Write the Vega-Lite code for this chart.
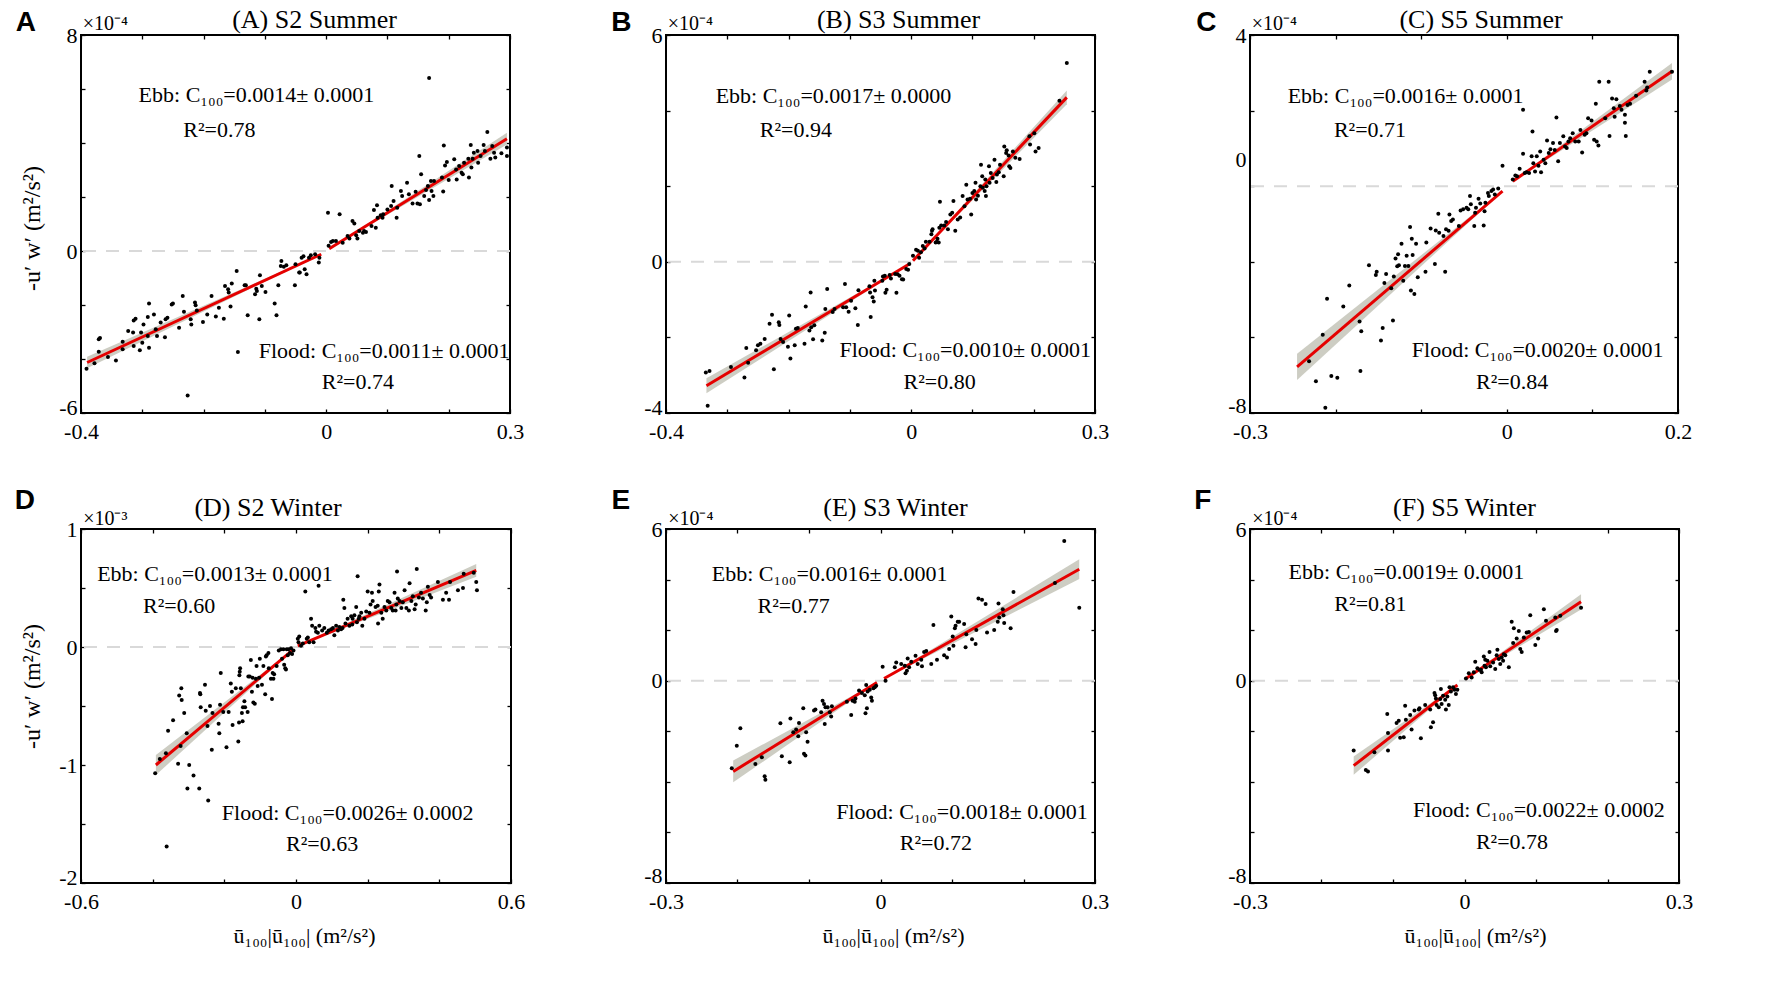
{
  "$schema": "https://vega.github.io/schema/vega-lite/v6.json",
  "description": "Quadratic drag law fits of Reynolds stress against near-bed velocity, six station/season panels",
  "background": "white",
  "padding": {"left": 13, "top": 5, "right": 10, "bottom": 10},
  "columns": 3,
  "spacing": {"row": 116, "column": 155},
  "bounds": "flush",
  "datasets": {
    "pts": [
      {"p":"A","x":-0.391,"y":-4.36},{"p":"A","x":-0.378,"y":-4.16},{"p":"A","x":-0.371,"y":-3.27},{"p":"A","x":-0.369,"y":-3.22},{"p":"A","x":-0.371,"y":-3.73},{"p":"A","x":-0.356,"y":-3.93},{"p":"A","x":-0.343,"y":-4.06},{"p":"A","x":-0.332,"y":-3.36},{"p":"A","x":-0.332,"y":-3.64},{"p":"A","x":-0.323,"y":-2.96},{"p":"A","x":-0.315,"y":-3.02},{"p":"A","x":-0.314,"y":-2.57},{"p":"A","x":-0.314,"y":-3.52},{"p":"A","x":-0.311,"y":-2.51},{"p":"A","x":-0.304,"y":-3.68},{"p":"A","x":-0.302,"y":-3.02},{"p":"A","x":-0.3,"y":-3.4},{"p":"A","x":-0.298,"y":-2.72},{"p":"A","x":-0.291,"y":-2.44},{"p":"A","x":-0.289,"y":-1.94},{"p":"A","x":-0.289,"y":-3.58},{"p":"A","x":-0.291,"y":-3.15},{"p":"A","x":-0.281,"y":-2.35},{"p":"A","x":-0.278,"y":-2.9},{"p":"A","x":-0.276,"y":-3.15},{"p":"A","x":-0.27,"y":-2.65},{"p":"A","x":-0.263,"y":-3.19},{"p":"A","x":-0.262,"y":-2.53},{"p":"A","x":-0.259,"y":-2.47},{"p":"A","x":-0.252,"y":-1.98},{"p":"A","x":-0.25,"y":-1.94},{"p":"A","x":-0.24,"y":-2.84},{"p":"A","x":-0.234,"y":-1.67},{"p":"A","x":-0.232,"y":-2.25},{"p":"A","x":-0.221,"y":-2.53},{"p":"A","x":-0.22,"y":-2.72},{"p":"A","x":-0.214,"y":-1.91},{"p":"A","x":-0.213,"y":-2.01},{"p":"A","x":-0.211,"y":-2.2},{"p":"A","x":-0.201,"y":-2.63},{"p":"A","x":-0.194,"y":-2.35},{"p":"A","x":-0.187,"y":-1.67},{"p":"A","x":-0.18,"y":-2.43},{"p":"A","x":-0.175,"y":-2.1},{"p":"A","x":-0.167,"y":-2.51},{"p":"A","x":-0.165,"y":-1.3},{"p":"A","x":-0.16,"y":-1.42},{"p":"A","x":-0.159,"y":-1.54},{"p":"A","x":-0.156,"y":-2.06},{"p":"A","x":-0.154,"y":-1.2},{"p":"A","x":-0.146,"y":-0.74},{"p":"A","x":-0.144,"y":-3.74},{"p":"A","x":-0.133,"y":-1.27},{"p":"A","x":-0.131,"y":-1.27},{"p":"A","x":-0.128,"y":-2.38},{"p":"A","x":-0.116,"y":-1.6},{"p":"A","x":-0.114,"y":-1.4},{"p":"A","x":-0.113,"y":-1.48},{"p":"A","x":-0.109,"y":-2.53},{"p":"A","x":-0.108,"y":-0.9},{"p":"A","x":-0.105,"y":-1.3},{"p":"A","x":-0.099,"y":-1.52},{"p":"A","x":-0.084,"y":-1.94},{"p":"A","x":-0.081,"y":-2.38},{"p":"A","x":-0.078,"y":-1.27},{"p":"A","x":-0.073,"y":-0.37},{"p":"A","x":-0.074,"y":-0.56},{"p":"A","x":-0.069,"y":-0.58},{"p":"A","x":-0.065,"y":-0.53},{"p":"A","x":-0.051,"y":-1.27},{"p":"A","x":-0.05,"y":-0.49},{"p":"A","x":-0.044,"y":-0.8},{"p":"A","x":-0.043,"y":-0.8},{"p":"A","x":-0.04,"y":-0.25},{"p":"A","x":-0.037,"y":-0.19},{"p":"A","x":-0.035,"y":-0.68},{"p":"A","x":-0.032,"y":-0.86},{"p":"A","x":-0.028,"y":-0.25},{"p":"A","x":-0.025,"y":-0.16},{"p":"A","x":-0.018,"y":-0.12},{"p":"A","x":-0.012,"y":-0.43},{"p":"A","x":-0.011,"y":-0.25},{"p":"A","x":-0.226,"y":-5.35},
      {"p":"A","x":0.003,"y":1.42},{"p":"A","x":0.004,"y":0.19},{"p":"A","x":0.008,"y":0.33},{"p":"A","x":0.011,"y":0.37},{"p":"A","x":0.016,"y":0.37},{"p":"A","x":0.022,"y":1.36},{"p":"A","x":0.027,"y":0.31},{"p":"A","x":0.035,"y":0.56},{"p":"A","x":0.038,"y":0.46},{"p":"A","x":0.043,"y":1.11},{"p":"A","x":0.046,"y":1.02},{"p":"A","x":0.049,"y":0.58},{"p":"A","x":0.051,"y":0.46},{"p":"A","x":0.054,"y":0.74},{"p":"A","x":0.06,"y":0.68},{"p":"A","x":0.062,"y":0.74},{"p":"A","x":0.065,"y":0.7},{"p":"A","x":0.074,"y":0.93},{"p":"A","x":0.078,"y":1.52},{"p":"A","x":0.081,"y":0.86},{"p":"A","x":0.083,"y":1.69},{"p":"A","x":0.084,"y":1.23},{"p":"A","x":0.089,"y":1.32},{"p":"A","x":0.092,"y":1.23},{"p":"A","x":0.093,"y":1.36},{"p":"A","x":0.1,"y":1.54},{"p":"A","x":0.106,"y":1.67},{"p":"A","x":0.107,"y":2.41},{"p":"A","x":0.11,"y":1.85},{"p":"A","x":0.115,"y":1.23},{"p":"A","x":0.116,"y":1.6},{"p":"A","x":0.122,"y":2.22},{"p":"A","x":0.124,"y":2.04},{"p":"A","x":0.132,"y":2.53},{"p":"A","x":0.135,"y":2.1},{"p":"A","x":0.141,"y":1.76},{"p":"A","x":0.146,"y":2.19},{"p":"A","x":0.149,"y":1.76},{"p":"A","x":0.152,"y":3.52},{"p":"A","x":0.153,"y":1.73},{"p":"A","x":0.155,"y":2.84},{"p":"A","x":0.16,"y":2.04},{"p":"A","x":0.163,"y":2.26},{"p":"A","x":0.166,"y":2.41},{"p":"A","x":0.168,"y":1.89},{"p":"A","x":0.171,"y":2.59},{"p":"A","x":0.172,"y":2.22},{"p":"A","x":0.175,"y":2.04},{"p":"A","x":0.176,"y":2.59},{"p":"A","x":0.168,"y":6.41},{"p":"A","x":0.189,"y":2.72},{"p":"A","x":0.191,"y":2.2},{"p":"A","x":0.192,"y":3.91},{"p":"A","x":0.194,"y":3.17},{"p":"A","x":0.197,"y":3.3},{"p":"A","x":0.2,"y":2.63},{"p":"A","x":0.209,"y":3.4},{"p":"A","x":0.212,"y":3.02},{"p":"A","x":0.213,"y":2.65},{"p":"A","x":0.217,"y":3.15},{"p":"A","x":0.221,"y":2.9},{"p":"A","x":0.223,"y":2.84},{"p":"A","x":0.225,"y":3.27},{"p":"A","x":0.232,"y":3.42},{"p":"A","x":0.233,"y":2.72},{"p":"A","x":0.236,"y":3.93},{"p":"A","x":0.237,"y":3.09},{"p":"A","x":0.239,"y":3.42},{"p":"A","x":0.241,"y":3.64},{"p":"A","x":0.247,"y":3.7},{"p":"A","x":0.248,"y":3.27},{"p":"A","x":0.252,"y":3.52},{"p":"A","x":0.257,"y":3.93},{"p":"A","x":0.259,"y":3.7},{"p":"A","x":0.263,"y":4.41},{"p":"A","x":0.268,"y":3.42},{"p":"A","x":0.271,"y":3.89},{"p":"A","x":0.274,"y":3.64},{"p":"A","x":0.276,"y":3.46},{"p":"A","x":0.286,"y":3.62},{"p":"A","x":0.295,"y":3.83},{"p":"A","x":0.295,"y":3.52},
      {"p":"B","x":-0.335,"y":-2.93},{"p":"B","x":-0.329,"y":-2.89},{"p":"B","x":-0.332,"y":-3.81},{"p":"B","x":-0.294,"y":-2.78},{"p":"B","x":-0.272,"y":-3.06},{"p":"B","x":-0.269,"y":-2.28},{"p":"B","x":-0.266,"y":-2.67},{"p":"B","x":-0.253,"y":-2.34},{"p":"B","x":-0.25,"y":-2.21},{"p":"B","x":-0.246,"y":-2.17},{"p":"B","x":-0.239,"y":-2.04},{"p":"B","x":-0.231,"y":-1.64},{"p":"B","x":-0.227,"y":-1.4},{"p":"B","x":-0.224,"y":-2.84},{"p":"B","x":-0.216,"y":-1.6},{"p":"B","x":-0.215,"y":-1.67},{"p":"B","x":-0.213,"y":-2.04},{"p":"B","x":-0.209,"y":-2.12},{"p":"B","x":-0.201,"y":-2.25},{"p":"B","x":-0.199,"y":-1.42},{"p":"B","x":-0.197,"y":-2.56},{"p":"B","x":-0.19,"y":-2.21},{"p":"B","x":-0.188,"y":-1.77},{"p":"B","x":-0.185,"y":-1.75},{"p":"B","x":-0.174,"y":-2.17},{"p":"B","x":-0.172,"y":-1.18},{"p":"B","x":-0.166,"y":-1.82},{"p":"B","x":-0.164,"y":-0.81},{"p":"B","x":-0.163,"y":-1.73},{"p":"B","x":-0.16,"y":-2.05},{"p":"B","x":-0.158,"y":-1.68},{"p":"B","x":-0.145,"y":-2.08},{"p":"B","x":-0.141,"y":-1.88},{"p":"B","x":-0.14,"y":-1.25},{"p":"B","x":-0.137,"y":-0.72},{"p":"B","x":-0.128,"y":-1.33},{"p":"B","x":-0.125,"y":-1.25},{"p":"B","x":-0.111,"y":-1.2},{"p":"B","x":-0.108,"y":-0.59},{"p":"B","x":-0.106,"y":-1.2},{"p":"B","x":-0.102,"y":-1.32},{"p":"B","x":-0.098,"y":-1.03},{"p":"B","x":-0.091,"y":-1.23},{"p":"B","x":-0.087,"y":-1.67},{"p":"B","x":-0.086,"y":-0.75},{"p":"B","x":-0.068,"y":-0.65},{"p":"B","x":-0.067,"y":-0.81},{"p":"B","x":-0.066,"y":-1.46},{"p":"B","x":-0.063,"y":-0.94},{"p":"B","x":-0.061,"y":-1.05},{"p":"B","x":-0.06,"y":-0.5},{"p":"B","x":-0.059,"y":-0.76},{"p":"B","x":-0.047,"y":-0.5},{"p":"B","x":-0.046,"y":-0.39},{"p":"B","x":-0.043,"y":-0.37},{"p":"B","x":-0.042,"y":-0.82},{"p":"B","x":-0.04,"y":-0.74},{"p":"B","x":-0.035,"y":-0.35},{"p":"B","x":-0.033,"y":-0.44},{"p":"B","x":-0.026,"y":-0.32},{"p":"B","x":-0.024,"y":-0.82},{"p":"B","x":-0.022,"y":-0.33},{"p":"B","x":-0.019,"y":-0.37},{"p":"B","x":-0.015,"y":-0.46},{"p":"B","x":-0.013,"y":-0.47},{"p":"B","x":-0.008,"y":-0.19},{"p":"B","x":-0.005,"y":-0.21},{"p":"B","x":-0.003,"y":-0.06},
      {"p":"B","x":0.003,"y":0.16},{"p":"B","x":0.008,"y":0.32},{"p":"B","x":0.011,"y":0.29},{"p":"B","x":0.013,"y":0.11},{"p":"B","x":0.016,"y":0.25},{"p":"B","x":0.019,"y":0.42},{"p":"B","x":0.022,"y":0.35},{"p":"B","x":0.024,"y":0.53},{"p":"B","x":0.03,"y":0.53},{"p":"B","x":0.033,"y":0.73},{"p":"B","x":0.034,"y":0.82},{"p":"B","x":0.035,"y":0.86},{"p":"B","x":0.04,"y":0.51},{"p":"B","x":0.042,"y":0.53},{"p":"B","x":0.043,"y":0.61},{"p":"B","x":0.045,"y":0.51},{"p":"B","x":0.046,"y":0.9},{"p":"B","x":0.047,"y":1.59},{"p":"B","x":0.049,"y":0.96},{"p":"B","x":0.054,"y":0.96},{"p":"B","x":0.057,"y":1.05},{"p":"B","x":0.06,"y":0.86},{"p":"B","x":0.064,"y":1.25},{"p":"B","x":0.067,"y":1.3},{"p":"B","x":0.069,"y":1.61},{"p":"B","x":0.072,"y":0.82},{"p":"B","x":0.076,"y":1.12},{"p":"B","x":0.08,"y":1.17},{"p":"B","x":0.084,"y":1.74},{"p":"B","x":0.087,"y":1.47},{"p":"B","x":0.09,"y":2.04},{"p":"B","x":0.092,"y":1.65},{"p":"B","x":0.096,"y":1.67},{"p":"B","x":0.098,"y":1.25},{"p":"B","x":0.1,"y":1.82},{"p":"B","x":0.103,"y":1.87},{"p":"B","x":0.105,"y":2.09},{"p":"B","x":0.106,"y":1.65},{"p":"B","x":0.109,"y":1.75},{"p":"B","x":0.113,"y":2.0},{"p":"B","x":0.114,"y":2.57},{"p":"B","x":0.116,"y":2.26},{"p":"B","x":0.117,"y":1.96},{"p":"B","x":0.12,"y":1.87},{"p":"B","x":0.121,"y":2.18},{"p":"B","x":0.122,"y":1.74},{"p":"B","x":0.123,"y":2.0},{"p":"B","x":0.127,"y":2.53},{"p":"B","x":0.128,"y":2.09},{"p":"B","x":0.13,"y":2.35},{"p":"B","x":0.133,"y":2.22},{"p":"B","x":0.136,"y":2.7},{"p":"B","x":0.139,"y":2.11},{"p":"B","x":0.14,"y":2.31},{"p":"B","x":0.143,"y":2.37},{"p":"B","x":0.145,"y":2.57},{"p":"B","x":0.151,"y":2.26},{"p":"B","x":0.152,"y":3.05},{"p":"B","x":0.155,"y":2.88},{"p":"B","x":0.156,"y":2.95},{"p":"B","x":0.159,"y":2.81},{"p":"B","x":0.16,"y":2.53},{"p":"B","x":0.162,"y":2.48},{"p":"B","x":0.166,"y":2.92},{"p":"B","x":0.17,"y":2.75},{"p":"B","x":0.177,"y":2.72},{"p":"B","x":0.193,"y":3.32},{"p":"B","x":0.194,"y":3.1},{"p":"B","x":0.201,"y":3.4},{"p":"B","x":0.203,"y":2.92},{"p":"B","x":0.208,"y":3.01},{"p":"B","x":0.242,"y":4.26},{"p":"B","x":0.254,"y":5.26},
      {"p":"C","x":-0.231,"y":-4.63},{"p":"C","x":-0.223,"y":-5.16},{"p":"C","x":-0.215,"y":-3.93},{"p":"C","x":-0.212,"y":-5.86},{"p":"C","x":-0.21,"y":-2.98},{"p":"C","x":-0.205,"y":-5.02},{"p":"C","x":-0.198,"y":-5.07},{"p":"C","x":-0.191,"y":-3.18},{"p":"C","x":-0.184,"y":-2.63},{"p":"C","x":-0.172,"y":-3.58},{"p":"C","x":-0.17,"y":-3.84},{"p":"C","x":-0.171,"y":-4.89},{"p":"C","x":-0.161,"y":-2.09},{"p":"C","x":-0.153,"y":-2.35},{"p":"C","x":-0.152,"y":-2.26},{"p":"C","x":-0.147,"y":-4.08},{"p":"C","x":-0.145,"y":-3.75},{"p":"C","x":-0.143,"y":-2.56},{"p":"C","x":-0.141,"y":-2.32},{"p":"C","x":-0.135,"y":-2.7},{"p":"C","x":-0.133,"y":-3.55},{"p":"C","x":-0.132,"y":-2.39},{"p":"C","x":-0.13,"y":-1.91},{"p":"C","x":-0.128,"y":-2.12},{"p":"C","x":-0.127,"y":-1.8},{"p":"C","x":-0.126,"y":-2.09},{"p":"C","x":-0.123,"y":-1.52},{"p":"C","x":-0.121,"y":-2.5},{"p":"C","x":-0.119,"y":-2.11},{"p":"C","x":-0.117,"y":-1.84},{"p":"C","x":-0.115,"y":-2.11},{"p":"C","x":-0.113,"y":-1.08},{"p":"C","x":-0.112,"y":-2.76},{"p":"C","x":-0.111,"y":-1.39},{"p":"C","x":-0.11,"y":-1.82},{"p":"C","x":-0.108,"y":-2.85},{"p":"C","x":-0.106,"y":-1.52},{"p":"C","x":-0.104,"y":-2.41},{"p":"C","x":-0.095,"y":-2.26},{"p":"C","x":-0.094,"y":-1.49},{"p":"C","x":-0.089,"y":-1.12},{"p":"C","x":-0.084,"y":-2.06},{"p":"C","x":-0.083,"y":-1.17},{"p":"C","x":-0.08,"y":-0.73},{"p":"C","x":-0.079,"y":-1.23},{"p":"C","x":-0.074,"y":-1.32},{"p":"C","x":-0.072,"y":-2.26},{"p":"C","x":-0.071,"y":-1.14},{"p":"C","x":-0.068,"y":-1.18},{"p":"C","x":-0.067,"y":-0.75},{"p":"C","x":-0.065,"y":-0.92},{"p":"C","x":-0.063,"y":-0.88},{"p":"C","x":-0.056,"y":-1.05},{"p":"C","x":-0.054,"y":-0.64},{"p":"C","x":-0.051,"y":-0.61},{"p":"C","x":-0.047,"y":-0.57},{"p":"C","x":-0.045,"y":-0.61},{"p":"C","x":-0.043,"y":-0.26},{"p":"C","x":-0.042,"y":-0.48},{"p":"C","x":-0.038,"y":-1.05},{"p":"C","x":-0.037,"y":-0.7},{"p":"C","x":-0.036,"y":-0.57},{"p":"C","x":-0.033,"y":-0.33},{"p":"C","x":-0.031,"y":-0.46},{"p":"C","x":-0.027,"y":-1.04},{"p":"C","x":-0.026,"y":-0.66},{"p":"C","x":-0.025,"y":-0.44},{"p":"C","x":-0.022,"y":-0.18},{"p":"C","x":-0.021,"y":-0.26},{"p":"C","x":-0.018,"y":-0.13},{"p":"C","x":-0.016,"y":-0.09},{"p":"C","x":-0.014,"y":-0.22},{"p":"C","x":-0.01,"y":-0.06},{"p":"C","x":-0.005,"y":0.54},
      {"p":"C","x":0.007,"y":0.18},{"p":"C","x":0.01,"y":0.28},{"p":"C","x":0.012,"y":0.26},{"p":"C","x":0.015,"y":0.46},{"p":"C","x":0.019,"y":0.86},{"p":"C","x":0.019,"y":2.02},{"p":"C","x":0.021,"y":0.35},{"p":"C","x":0.023,"y":0.37},{"p":"C","x":0.026,"y":0.35},{"p":"C","x":0.029,"y":0.79},{"p":"C","x":0.03,"y":1.45},{"p":"C","x":0.031,"y":0.61},{"p":"C","x":0.033,"y":0.39},{"p":"C","x":0.035,"y":0.79},{"p":"C","x":0.037,"y":0.54},{"p":"C","x":0.039,"y":0.92},{"p":"C","x":0.04,"y":0.37},{"p":"C","x":0.043,"y":0.7},{"p":"C","x":0.045,"y":0.61},{"p":"C","x":0.047,"y":1.21},{"p":"C","x":0.049,"y":0.88},{"p":"C","x":0.051,"y":0.98},{"p":"C","x":0.054,"y":1.14},{"p":"C","x":0.056,"y":0.96},{"p":"C","x":0.058,"y":1.82},{"p":"C","x":0.06,"y":0.66},{"p":"C","x":0.062,"y":1.14},{"p":"C","x":0.066,"y":1.32},{"p":"C","x":0.068,"y":1.05},{"p":"C","x":0.07,"y":1.01},{"p":"C","x":0.072,"y":1.18},{"p":"C","x":0.074,"y":1.27},{"p":"C","x":0.077,"y":1.4},{"p":"C","x":0.08,"y":1.18},{"p":"C","x":0.084,"y":1.18},{"p":"C","x":0.086,"y":1.49},{"p":"C","x":0.088,"y":0.89},{"p":"C","x":0.091,"y":1.36},{"p":"C","x":0.093,"y":1.4},{"p":"C","x":0.095,"y":1.8},{"p":"C","x":0.099,"y":1.74},{"p":"C","x":0.102,"y":1.23},{"p":"C","x":0.104,"y":2.18},{"p":"C","x":0.105,"y":1.18},{"p":"C","x":0.107,"y":1.08},{"p":"C","x":0.108,"y":2.76},{"p":"C","x":0.115,"y":1.8},{"p":"C","x":0.119,"y":2.76},{"p":"C","x":0.12,"y":1.33},{"p":"C","x":0.123,"y":2.32},{"p":"C","x":0.125,"y":2.06},{"p":"C","x":0.126,"y":1.84},{"p":"C","x":0.128,"y":2.3},{"p":"C","x":0.132,"y":2.12},{"p":"C","x":0.134,"y":2.02},{"p":"C","x":0.138,"y":1.89},{"p":"C","x":0.138,"y":1.68},{"p":"C","x":0.139,"y":1.33},{"p":"C","x":0.141,"y":2.15},{"p":"C","x":0.144,"y":2.18},{"p":"C","x":0.151,"y":2.39},{"p":"C","x":0.161,"y":2.76},{"p":"C","x":0.163,"y":2.53},{"p":"C","x":0.164,"y":2.61},{"p":"C","x":0.167,"y":3.03},{"p":"C","x":0.193,"y":3.03},
      {"p":"D","x":-0.393,"y":-1.07},{"p":"D","x":-0.38,"y":-0.95},{"p":"D","x":-0.363,"y":-0.9},{"p":"D","x":-0.361,"y":-1.69},{"p":"D","x":-0.357,"y":-0.71},{"p":"D","x":-0.343,"y":-0.62},{"p":"D","x":-0.329,"y":-0.99},{"p":"D","x":-0.326,"y":-0.41},{"p":"D","x":-0.322,"y":-0.84},{"p":"D","x":-0.32,"y":-0.35},{"p":"D","x":-0.319,"y":-0.45},{"p":"D","x":-0.312,"y":-0.56},{"p":"D","x":-0.305,"y":-0.73},{"p":"D","x":-0.303,"y":-1.2},{"p":"D","x":-0.298,"y":-1.0},{"p":"D","x":-0.286,"y":-1.09},{"p":"D","x":-0.27,"y":-1.2},{"p":"D","x":-0.268,"y":-0.39},{"p":"D","x":-0.267,"y":-0.4},{"p":"D","x":-0.266,"y":-0.51},{"p":"D","x":-0.254,"y":-0.32},{"p":"D","x":-0.252,"y":-0.54},{"p":"D","x":-0.247,"y":-0.67},{"p":"D","x":-0.245,"y":-1.3},{"p":"D","x":-0.24,"y":-0.5},{"p":"D","x":-0.235,"y":-0.87},{"p":"D","x":-0.233,"y":-0.56},{"p":"D","x":-0.216,"y":-0.65},{"p":"D","x":-0.214,"y":-0.73},{"p":"D","x":-0.212,"y":-0.49},{"p":"D","x":-0.21,"y":-0.22},{"p":"D","x":-0.203,"y":-0.55},{"p":"D","x":-0.194,"y":-0.85},{"p":"D","x":-0.188,"y":-0.55},{"p":"D","x":-0.182,"y":-0.31},{"p":"D","x":-0.179,"y":-0.38},{"p":"D","x":-0.177,"y":-0.66},{"p":"D","x":-0.168,"y":-0.35},{"p":"D","x":-0.161,"y":-0.8},{"p":"D","x":-0.158,"y":-0.24},{"p":"D","x":-0.159,"y":-0.64},{"p":"D","x":-0.157,"y":-0.21},{"p":"D","x":-0.156,"y":-0.18},{"p":"D","x":-0.154,"y":-0.35},{"p":"D","x":-0.151,"y":-0.56},{"p":"D","x":-0.149,"y":-0.63},{"p":"D","x":-0.148,"y":-0.51},{"p":"D","x":-0.144,"y":-0.46},{"p":"D","x":-0.142,"y":-0.51},{"p":"D","x":-0.135,"y":-0.55},{"p":"D","x":-0.133,"y":-0.25},{"p":"D","x":-0.129,"y":-0.25},{"p":"D","x":-0.126,"y":-0.11},{"p":"D","x":-0.123,"y":-0.38},{"p":"D","x":-0.121,"y":-0.26},{"p":"D","x":-0.119,"y":-0.47},{"p":"D","x":-0.115,"y":-0.48},{"p":"D","x":-0.112,"y":-0.27},{"p":"D","x":-0.11,"y":-0.16},{"p":"D","x":-0.107,"y":-0.33},{"p":"D","x":-0.103,"y":-0.26},{"p":"D","x":-0.101,"y":-0.1},{"p":"D","x":-0.095,"y":-0.32},{"p":"D","x":-0.091,"y":-0.16},{"p":"D","x":-0.086,"y":-0.4},{"p":"D","x":-0.084,"y":-0.08},{"p":"D","x":-0.082,"y":-0.07},{"p":"D","x":-0.077,"y":-0.05},{"p":"D","x":-0.076,"y":-0.18},{"p":"D","x":-0.07,"y":-0.27},{"p":"D","x":-0.067,"y":-0.44},{"p":"D","x":-0.065,"y":-0.22},{"p":"D","x":-0.063,"y":-0.27},{"p":"D","x":-0.061,"y":-0.23},{"p":"D","x":-0.054,"y":-0.16},{"p":"D","x":-0.048,"y":-0.03},{"p":"D","x":-0.042,"y":-0.02},{"p":"D","x":-0.039,"y":-0.1},{"p":"D","x":-0.035,"y":-0.02},{"p":"D","x":-0.033,"y":-0.15},{"p":"D","x":-0.03,"y":-0.18},{"p":"D","x":-0.028,"y":-0.19},{"p":"D","x":-0.026,"y":-0.02},{"p":"D","x":-0.023,"y":-0.07},{"p":"D","x":-0.021,"y":-0.02},{"p":"D","x":-0.017,"y":-0.05},{"p":"D","x":-0.014,"y":-0.01},{"p":"D","x":-0.011,"y":-0.06},{"p":"D","x":-0.007,"y":-0.03},
      {"p":"D","x":0.005,"y":0.07},{"p":"D","x":0.007,"y":0.04},{"p":"D","x":0.009,"y":0.09},{"p":"D","x":0.014,"y":0.01},{"p":"D","x":0.019,"y":0.03},{"p":"D","x":0.026,"y":0.47},{"p":"D","x":0.03,"y":0.07},{"p":"D","x":0.033,"y":0.08},{"p":"D","x":0.037,"y":0.04},{"p":"D","x":0.042,"y":0.24},{"p":"D","x":0.045,"y":0.18},{"p":"D","x":0.049,"y":0.04},{"p":"D","x":0.054,"y":0.16},{"p":"D","x":0.056,"y":0.13},{"p":"D","x":0.061,"y":0.12},{"p":"D","x":0.063,"y":0.52},{"p":"D","x":0.065,"y":0.18},{"p":"D","x":0.073,"y":0.14},{"p":"D","x":0.079,"y":0.16},{"p":"D","x":0.086,"y":0.12},{"p":"D","x":0.091,"y":0.14},{"p":"D","x":0.098,"y":0.15},{"p":"D","x":0.103,"y":0.16},{"p":"D","x":0.107,"y":0.1},{"p":"D","x":0.112,"y":0.18},{"p":"D","x":0.117,"y":0.14},{"p":"D","x":0.121,"y":0.17},{"p":"D","x":0.126,"y":0.15},{"p":"D","x":0.13,"y":0.16},{"p":"D","x":0.132,"y":0.4},{"p":"D","x":0.135,"y":0.33},{"p":"D","x":0.138,"y":0.2},{"p":"D","x":0.144,"y":0.24},{"p":"D","x":0.149,"y":0.18},{"p":"D","x":0.154,"y":0.26},{"p":"D","x":0.157,"y":0.19},{"p":"D","x":0.158,"y":0.24},{"p":"D","x":0.163,"y":0.27},{"p":"D","x":0.168,"y":0.34},{"p":"D","x":0.17,"y":0.21},{"p":"D","x":0.172,"y":0.6},{"p":"D","x":0.175,"y":0.24},{"p":"D","x":0.177,"y":0.26},{"p":"D","x":0.182,"y":0.29},{"p":"D","x":0.185,"y":0.18},{"p":"D","x":0.191,"y":0.24},{"p":"D","x":0.196,"y":0.3},{"p":"D","x":0.2,"y":0.47},{"p":"D","x":0.205,"y":0.29},{"p":"D","x":0.208,"y":0.36},{"p":"D","x":0.212,"y":0.46},{"p":"D","x":0.214,"y":0.39},{"p":"D","x":0.222,"y":0.34},{"p":"D","x":0.228,"y":0.35},{"p":"D","x":0.231,"y":0.47},{"p":"D","x":0.233,"y":0.53},{"p":"D","x":0.229,"y":0.2},{"p":"D","x":0.238,"y":0.29},{"p":"D","x":0.242,"y":0.24},{"p":"D","x":0.247,"y":0.34},{"p":"D","x":0.252,"y":0.31},{"p":"D","x":0.256,"y":0.39},{"p":"D","x":0.261,"y":0.38},{"p":"D","x":0.266,"y":0.33},{"p":"D","x":0.27,"y":0.31},{"p":"D","x":0.275,"y":0.46},{"p":"D","x":0.278,"y":0.31},{"p":"D","x":0.28,"y":0.36},{"p":"D","x":0.282,"y":0.64},{"p":"D","x":0.284,"y":0.41},{"p":"D","x":0.289,"y":0.39},{"p":"D","x":0.294,"y":0.33},{"p":"D","x":0.298,"y":0.38},{"p":"D","x":0.303,"y":0.48},{"p":"D","x":0.308,"y":0.33},{"p":"D","x":0.315,"y":0.31},{"p":"D","x":0.317,"y":0.54},{"p":"D","x":0.322,"y":0.39},{"p":"D","x":0.326,"y":0.43},{"p":"D","x":0.331,"y":0.32},{"p":"D","x":0.334,"y":0.36},{"p":"D","x":0.337,"y":0.66},{"p":"D","x":0.343,"y":0.42},{"p":"D","x":0.349,"y":0.46},{"p":"D","x":0.354,"y":0.41},{"p":"D","x":0.362,"y":0.31},{"p":"D","x":0.365,"y":0.38},{"p":"D","x":0.368,"y":0.51},{"p":"D","x":0.373,"y":0.44},{"p":"D","x":0.377,"y":0.42},{"p":"D","x":0.396,"y":0.55},{"p":"D","x":0.41,"y":0.4},{"p":"D","x":0.419,"y":0.46},{"p":"D","x":0.427,"y":0.4},{"p":"D","x":0.43,"y":0.55},{"p":"D","x":0.452,"y":0.48},{"p":"D","x":0.466,"y":0.5},{"p":"D","x":0.468,"y":0.62},{"p":"D","x":0.496,"y":0.63},{"p":"D","x":0.503,"y":0.55},{"p":"D","x":0.505,"y":0.48},
      {"p":"E","x":-0.208,"y":-3.46},{"p":"E","x":-0.201,"y":-2.57},{"p":"E","x":-0.196,"y":-1.88},{"p":"E","x":-0.175,"y":-3.29},{"p":"E","x":-0.166,"y":-3.03},{"p":"E","x":-0.162,"y":-3.78},{"p":"E","x":-0.161,"y":-3.92},{"p":"E","x":-0.14,"y":-1.68},{"p":"E","x":-0.138,"y":-2.99},{"p":"E","x":-0.127,"y":-3.22},{"p":"E","x":-0.126,"y":-1.49},{"p":"E","x":-0.122,"y":-2.04},{"p":"E","x":-0.118,"y":-1.93},{"p":"E","x":-0.115,"y":-2.2},{"p":"E","x":-0.114,"y":-1.67},{"p":"E","x":-0.108,"y":-1.09},{"p":"E","x":-0.107,"y":-2.89},{"p":"E","x":-0.105,"y":-2.96},{"p":"E","x":-0.104,"y":-2.04},{"p":"E","x":-0.102,"y":-2.41},{"p":"E","x":-0.093,"y":-1.18},{"p":"E","x":-0.091,"y":-1.14},{"p":"E","x":-0.083,"y":-1.25},{"p":"E","x":-0.081,"y":-0.79},{"p":"E","x":-0.079,"y":-0.92},{"p":"E","x":-0.078,"y":-1.71},{"p":"E","x":-0.077,"y":-1.05},{"p":"E","x":-0.074,"y":-1.05},{"p":"E","x":-0.071,"y":-1.25},{"p":"E","x":-0.069,"y":-1.42},{"p":"E","x":-0.068,"y":-1.01},{"p":"E","x":-0.047,"y":-0.83},{"p":"E","x":-0.041,"y":-1.36},{"p":"E","x":-0.039,"y":-0.79},{"p":"E","x":-0.036,"y":-0.83},{"p":"E","x":-0.035,"y":-0.7},{"p":"E","x":-0.03,"y":-0.39},{"p":"E","x":-0.026,"y":-0.49},{"p":"E","x":-0.022,"y":-0.57},{"p":"E","x":-0.021,"y":-1.29},{"p":"E","x":-0.02,"y":-0.17},{"p":"E","x":-0.019,"y":-1.09},{"p":"E","x":-0.018,"y":-0.43},{"p":"E","x":-0.015,"y":-0.36},{"p":"E","x":-0.013,"y":-0.66},{"p":"E","x":-0.012,"y":-0.79},{"p":"E","x":-0.01,"y":-0.3},{"p":"E","x":-0.008,"y":-0.26},{"p":"E","x":-0.006,"y":-0.2},
      {"p":"E","x":0.003,"y":0.55},{"p":"E","x":0.007,"y":0.0},{"p":"E","x":0.02,"y":0.53},{"p":"E","x":0.022,"y":0.72},{"p":"E","x":0.029,"y":0.66},{"p":"E","x":0.034,"y":0.59},{"p":"E","x":0.035,"y":0.3},{"p":"E","x":0.037,"y":0.39},{"p":"E","x":0.038,"y":0.88},{"p":"E","x":0.04,"y":0.53},{"p":"E","x":0.043,"y":0.75},{"p":"E","x":0.049,"y":0.99},{"p":"E","x":0.052,"y":0.66},{"p":"E","x":0.057,"y":0.83},{"p":"E","x":0.058,"y":0.57},{"p":"E","x":0.061,"y":1.14},{"p":"E","x":0.064,"y":1.18},{"p":"E","x":0.071,"y":0.66},{"p":"E","x":0.074,"y":2.2},{"p":"E","x":0.079,"y":0.83},{"p":"E","x":0.089,"y":1.01},{"p":"E","x":0.093,"y":0.92},{"p":"E","x":0.096,"y":1.25},{"p":"E","x":0.099,"y":2.54},{"p":"E","x":0.101,"y":1.75},{"p":"E","x":0.102,"y":1.38},{"p":"E","x":0.104,"y":2.07},{"p":"E","x":0.105,"y":2.17},{"p":"E","x":0.108,"y":2.33},{"p":"E","x":0.11,"y":2.33},{"p":"E","x":0.117,"y":2.24},{"p":"E","x":0.119,"y":1.32},{"p":"E","x":0.12,"y":1.84},{"p":"E","x":0.128,"y":1.64},{"p":"E","x":0.133,"y":1.45},{"p":"E","x":0.134,"y":2.01},{"p":"E","x":0.137,"y":3.25},{"p":"E","x":0.142,"y":3.2},{"p":"E","x":0.147,"y":3.03},{"p":"E","x":0.149,"y":1.91},{"p":"E","x":0.159,"y":2.01},{"p":"E","x":0.164,"y":2.33},{"p":"E","x":0.165,"y":3.05},{"p":"E","x":0.166,"y":2.5},{"p":"E","x":0.171,"y":2.83},{"p":"E","x":0.172,"y":2.59},{"p":"E","x":0.173,"y":2.28},{"p":"E","x":0.182,"y":2.07},{"p":"E","x":0.186,"y":3.51},{"p":"E","x":0.244,"y":3.86},{"p":"E","x":0.257,"y":5.53},{"p":"E","x":0.278,"y":2.89},
      {"p":"F","x":-0.155,"y":-2.76},{"p":"F","x":-0.138,"y":-3.53},{"p":"F","x":-0.135,"y":-3.59},{"p":"F","x":-0.126,"y":-2.83},{"p":"F","x":-0.108,"y":-1.32},{"p":"F","x":-0.107,"y":-2.07},{"p":"F","x":-0.107,"y":-2.76},{"p":"F","x":-0.095,"y":-1.67},{"p":"F","x":-0.092,"y":-1.58},{"p":"F","x":-0.09,"y":-2.26},{"p":"F","x":-0.085,"y":-2.24},{"p":"F","x":-0.083,"y":-0.99},{"p":"F","x":-0.082,"y":-1.54},{"p":"F","x":-0.076,"y":-1.36},{"p":"F","x":-0.074,"y":-1.93},{"p":"F","x":-0.07,"y":-1.18},{"p":"F","x":-0.064,"y":-1.14},{"p":"F","x":-0.063,"y":-1.09},{"p":"F","x":-0.061,"y":-2.28},{"p":"F","x":-0.055,"y":-0.96},{"p":"F","x":-0.048,"y":-1.14},{"p":"F","x":-0.047,"y":-1.84},{"p":"F","x":-0.044,"y":-1.64},{"p":"F","x":-0.042,"y":-0.49},{"p":"F","x":-0.041,"y":-0.57},{"p":"F","x":-0.04,"y":-0.7},{"p":"F","x":-0.039,"y":-0.96},{"p":"F","x":-0.036,"y":-1.05},{"p":"F","x":-0.034,"y":-0.72},{"p":"F","x":-0.033,"y":-0.33},{"p":"F","x":-0.032,"y":-0.92},{"p":"F","x":-0.03,"y":-0.59},{"p":"F","x":-0.027,"y":-0.75},{"p":"F","x":-0.026,"y":-1.14},{"p":"F","x":-0.024,"y":-0.62},{"p":"F","x":-0.022,"y":-0.96},{"p":"F","x":-0.021,"y":-0.26},{"p":"F","x":-0.019,"y":-0.43},{"p":"F","x":-0.016,"y":-0.26},{"p":"F","x":-0.014,"y":-0.36},{"p":"F","x":-0.012,"y":-0.53},{"p":"F","x":-0.01,"y":-0.36},
      {"p":"F","x":0.002,"y":0.09},{"p":"F","x":0.006,"y":0.3},{"p":"F","x":0.01,"y":0.13},{"p":"F","x":0.013,"y":0.33},{"p":"F","x":0.015,"y":0.75},{"p":"F","x":0.018,"y":0.49},{"p":"F","x":0.021,"y":0.43},{"p":"F","x":0.023,"y":0.43},{"p":"F","x":0.024,"y":0.33},{"p":"F","x":0.027,"y":0.96},{"p":"F","x":0.028,"y":0.59},{"p":"F","x":0.029,"y":0.83},{"p":"F","x":0.03,"y":0.53},{"p":"F","x":0.032,"y":0.79},{"p":"F","x":0.035,"y":1.14},{"p":"F","x":0.036,"y":0.57},{"p":"F","x":0.04,"y":0.72},{"p":"F","x":0.043,"y":0.46},{"p":"F","x":0.045,"y":1.01},{"p":"F","x":0.046,"y":1.22},{"p":"F","x":0.048,"y":0.86},{"p":"F","x":0.05,"y":0.66},{"p":"F","x":0.052,"y":0.92},{"p":"F","x":0.054,"y":0.79},{"p":"F","x":0.055,"y":1.05},{"p":"F","x":0.057,"y":1.01},{"p":"F","x":0.062,"y":0.53},{"p":"F","x":0.066,"y":2.33},{"p":"F","x":0.068,"y":1.49},{"p":"F","x":0.069,"y":2.07},{"p":"F","x":0.073,"y":1.67},{"p":"F","x":0.076,"y":1.97},{"p":"F","x":0.078,"y":1.25},{"p":"F","x":0.08,"y":1.14},{"p":"F","x":0.083,"y":1.71},{"p":"F","x":0.087,"y":1.91},{"p":"F","x":0.09,"y":1.93},{"p":"F","x":0.092,"y":2.59},{"p":"F","x":0.099,"y":1.41},{"p":"F","x":0.103,"y":1.67},{"p":"F","x":0.111,"y":2.83},{"p":"F","x":0.114,"y":2.37},{"p":"F","x":0.127,"y":2.5},{"p":"F","x":0.128,"y":1.97},{"p":"F","x":0.129,"y":2.01},{"p":"F","x":0.134,"y":2.57},{"p":"F","x":0.163,"y":2.89}
    ],
    "fit": [
      {"p":"A","s":"flood","x":-0.39,"y":-4.13,"lo":-4.34,"hi":-3.92},{"p":"A","s":"flood","x":-0.008,"y":-0.12,"lo":-0.125,"hi":-0.115},
      {"p":"A","s":"ebb","x":0.005,"y":0.08,"lo":0.075,"hi":0.085},{"p":"A","s":"ebb","x":0.295,"y":4.16,"lo":3.94,"hi":4.38},
      {"p":"B","s":"flood","x":-0.334,"y":-3.28,"lo":-3.48,"hi":-3.08},{"p":"B","s":"flood","x":-0.003,"y":-0.06,"lo":-0.065,"hi":-0.055},
      {"p":"B","s":"ebb","x":0.003,"y":0.03,"lo":0.025,"hi":0.035},{"p":"B","s":"ebb","x":0.254,"y":4.35,"lo":4.17,"hi":4.53},
      {"p":"C","s":"flood","x":-0.245,"y":-4.78,"lo":-5.13,"hi":-4.43},{"p":"C","s":"flood","x":-0.005,"y":-0.13,"lo":-0.14,"hi":-0.12},
      {"p":"C","s":"ebb","x":0.007,"y":0.13,"lo":0.12,"hi":0.14},{"p":"C","s":"ebb","x":0.193,"y":3.04,"lo":2.82,"hi":3.26},
      {"p":"D","s":"flood","x":-0.391,"y":-1.0,"lo":-1.085,"hi":-0.915},{"p":"D","s":"flood","x":-0.007,"y":-0.02,"lo":-0.022,"hi":-0.018},
      {"p":"D","s":"ebb","x":0.005,"y":0.01,"lo":0.008,"hi":0.012},{"p":"D","s":"ebb","x":0.503,"y":0.65,"lo":0.596,"hi":0.704},
      {"p":"E","s":"flood","x":-0.206,"y":-3.59,"lo":-4.02,"hi":-3.16},{"p":"E","s":"flood","x":-0.005,"y":-0.07,"lo":-0.08,"hi":-0.06},
      {"p":"E","s":"ebb","x":0.005,"y":0.09,"lo":0.08,"hi":0.1},{"p":"E","s":"ebb","x":0.278,"y":4.41,"lo":4.02,"hi":4.8},
      {"p":"F","s":"flood","x":-0.155,"y":-3.36,"lo":-3.72,"hi":-3.0},{"p":"F","s":"flood","x":-0.01,"y":-0.17,"lo":-0.19,"hi":-0.15},
      {"p":"F","s":"ebb","x":0.001,"y":0.07,"lo":0.06,"hi":0.08},{"p":"F","s":"ebb","x":0.163,"y":3.12,"lo":2.82,"hi":3.42}
    ],
    "ann": [
      {"p":"A","k":"s","x":-0.306,"y":5.79,"t":"Ebb: C₁₀₀=0.0014± 0.0001"},{"p":"A","k":"s","x":-0.233,"y":4.5,"t":"R²=0.78"},{"p":"A","k":"s","x":-0.11,"y":-3.69,"t":"Flood: C₁₀₀=0.0011± 0.0001"},{"p":"A","k":"s","x":-0.007,"y":-4.86,"t":"R²=0.74"},{"p":"A","k":"l","x":-0.49,"y":8.44,"t":"A"},{"p":"A","k":"e","x":-0.397,"y":8.19,"t":"×10⁻⁴"},
      {"p":"B","k":"s","x":-0.319,"y":4.39,"t":"Ebb: C₁₀₀=0.0017± 0.0000"},{"p":"B","k":"s","x":-0.247,"y":3.49,"t":"R²=0.94"},{"p":"B","k":"s","x":-0.117,"y":-2.34,"t":"Flood: C₁₀₀=0.0010± 0.0001"},{"p":"B","k":"s","x":-0.0125,"y":-3.18,"t":"R²=0.80"},{"p":"B","k":"l","x":-0.473,"y":6.32,"t":"B"},{"p":"B","k":"e","x":-0.397,"y":6.13,"t":"×10⁻⁴"},
      {"p":"C","k":"s","x":-0.256,"y":2.39,"t":"Ebb: C₁₀₀=0.0016± 0.0001"},{"p":"C","k":"s","x":-0.202,"y":1.49,"t":"R²=0.71"},{"p":"C","k":"s","x":-0.111,"y":-4.34,"t":"Flood: C₁₀₀=0.0020± 0.0001"},{"p":"C","k":"s","x":-0.036,"y":-5.18,"t":"R²=0.84"},{"p":"C","k":"l","x":-0.351,"y":4.32,"t":"C"},{"p":"C","k":"e","x":-0.298,"y":4.13,"t":"×10⁻⁴"},
      {"p":"D","k":"s","x":-0.555,"y":0.62,"t":"Ebb: C₁₀₀=0.0013± 0.0001"},{"p":"D","k":"s","x":-0.427,"y":0.35,"t":"R²=0.60"},{"p":"D","k":"s","x":-0.207,"y":-1.41,"t":"Flood: C₁₀₀=0.0026± 0.0002"},{"p":"D","k":"s","x":-0.028,"y":-1.67,"t":"R²=0.63"},{"p":"D","k":"l","x":-0.757,"y":1.24,"t":"D"},{"p":"D","k":"e","x":-0.594,"y":1.034,"t":"×10⁻³"},
      {"p":"E","k":"s","x":-0.236,"y":4.21,"t":"Ebb: C₁₀₀=0.0016± 0.0001"},{"p":"E","k":"s","x":-0.172,"y":2.96,"t":"R²=0.77"},{"p":"E","k":"s","x":-0.062,"y":-5.2,"t":"Flood: C₁₀₀=0.0018± 0.0001"},{"p":"E","k":"s","x":0.027,"y":-6.41,"t":"R²=0.72"},{"p":"E","k":"l","x":-0.363,"y":7.11,"t":"E"},{"p":"E","k":"e","x":-0.297,"y":6.16,"t":"×10⁻⁴"},
      {"p":"F","k":"s","x":-0.246,"y":4.28,"t":"Ebb: C₁₀₀=0.0019± 0.0001"},{"p":"F","k":"s","x":-0.182,"y":3.03,"t":"R²=0.81"},{"p":"F","k":"s","x":-0.072,"y":-5.13,"t":"Flood: C₁₀₀=0.0022± 0.0002"},{"p":"F","k":"s","x":0.016,"y":-6.36,"t":"R²=0.78"},{"p":"F","k":"l","x":-0.366,"y":7.11,"t":"F"},{"p":"F","k":"e","x":-0.297,"y":6.16,"t":"×10⁻⁴"}
    ]
  },
  "concat": [
    {
      "width": 429,
      "height": 378,
      "title": {"text": "(A) S2 Summer", "dx": 19, "offset": -24},
      "resolve": {"axis": {"x": "independent", "y": "independent"}},
      "layer": [
        {
          "data": {"name": "fit"},
          "transform": [{"filter": "datum.p == 'A'"}],
          "mark": {"type": "area", "color": "#cdcdc3"},
          "encoding": {
            "x": {"field": "x", "type": "quantitative", "scale": {"domain": [-0.4, 0.3], "nice": false, "zero": false}, "axis": {"orient": "top", "values": [-0.4, -0.3, -0.2, -0.1, 0, 0.1, 0.2, 0.3], "labels": false, "title": null}},
            "y": {"field": "lo", "type": "quantitative", "scale": {"domain": [-6, 8], "nice": false, "zero": false}, "axis": {"orient": "right", "values": [-6, -4, -2, 0, 2, 4, 6, 8], "labels": false, "title": null}},
            "y2": {"field": "hi"},
            "detail": {"field": "s"}
          }
        },
        {
          "data": {"values": [{}]},
          "mark": {"type": "rule", "color": "#d9d9d9", "strokeWidth": 2, "strokeDash": [13, 10]},
          "encoding": {"y": {"datum": 0, "type": "quantitative", "axis": null}}
        },
        {
          "data": {"name": "fit"},
          "transform": [{"filter": "datum.p == 'A'"}],
          "mark": {"type": "line", "color": "#e50000", "strokeWidth": 3},
          "encoding": {
            "x": {"field": "x", "type": "quantitative", "axis": null},
            "y": {"field": "y", "type": "quantitative", "axis": null},
            "detail": {"field": "s"}
          }
        },
        {
          "data": {"name": "pts"},
          "transform": [{"filter": "datum.p == 'A'"}],
          "mark": {"type": "circle", "color": "black", "opacity": 1, "size": 16},
          "encoding": {
            "x": {"field": "x", "type": "quantitative", "scale": {"domain": [-0.4, 0.3], "nice": false, "zero": false}, "axis": {"orient": "bottom", "values": [-0.4, -0.3, -0.2, -0.1, 0, 0.1, 0.2, 0.3], "labelExpr": "datum.value == -0.4 ? '-0.4' : datum.value == 0 ? '0' : datum.value == 0.3 ? '0.3' : ''", "title": null}},
            "y": {"field": "y", "type": "quantitative", "scale": {"domain": [-6, 8], "nice": false, "zero": false}, "axis": {"orient": "left", "values": [-6, -4, -2, 0, 2, 4, 6, 8], "labelExpr": "datum.value == 8 ? '8' : datum.value == 0 ? '0' : datum.value == -6 ? '-6' : ''", "labelOffset": {"condition": {"test": "datum.value == -6", "value": -6}, "value": 0}, "title": "-u′ w′  (m²/s²)", "titleFontSize": 24, "titleX": -49, "titleY": 193, "titleAngle": -90, "titleAlign": "center", "titleBaseline": "middle"}}
          }
        },
        {
          "data": {"name": "ann"},
          "transform": [{"filter": "datum.p == 'A' && datum.k == 's'"}],
          "mark": {"type": "text", "font": "Liberation Serif", "fontSize": 22, "align": "left", "baseline": "middle", "color": "black"},
          "encoding": {"x": {"field": "x", "type": "quantitative", "axis": null}, "y": {"field": "y", "type": "quantitative", "axis": null}, "text": {"field": "t"}}
        },
        {
          "data": {"name": "ann"},
          "transform": [{"filter": "datum.p == 'A' && datum.k == 'l'"}],
          "mark": {"type": "text", "font": "Liberation Sans", "fontWeight": "bold", "fontSize": 28, "align": "center", "baseline": "middle", "color": "black"},
          "encoding": {"x": {"field": "x", "type": "quantitative", "axis": null}, "y": {"field": "y", "type": "quantitative", "axis": null}, "text": {"field": "t"}}
        },
        {
          "data": {"name": "ann"},
          "transform": [{"filter": "datum.p == 'A' && datum.k == 'e'"}],
          "mark": {"type": "text", "font": "Liberation Serif", "fontSize": 20, "align": "left", "baseline": "alphabetic", "color": "black"},
          "encoding": {"x": {"field": "x", "type": "quantitative", "axis": null}, "y": {"field": "y", "type": "quantitative", "axis": null}, "text": {"field": "t"}}
        }
      ]
    },
    {
      "width": 429,
      "height": 378,
      "title": {"text": "(B) S3 Summer", "dx": 18, "offset": -24},
      "resolve": {"axis": {"x": "independent", "y": "independent"}},
      "layer": [
        {
          "data": {"name": "fit"},
          "transform": [{"filter": "datum.p == 'B'"}],
          "mark": {"type": "area", "color": "#cdcdc3"},
          "encoding": {
            "x": {"field": "x", "type": "quantitative", "scale": {"domain": [-0.4, 0.3], "nice": false, "zero": false}, "axis": {"orient": "top", "values": [-0.4, -0.3, -0.2, -0.1, 0, 0.1, 0.2, 0.3], "labels": false, "title": null}},
            "y": {"field": "lo", "type": "quantitative", "scale": {"domain": [-4, 6], "nice": false, "zero": false}, "axis": {"orient": "right", "values": [-4, -2, 0, 2, 4, 6], "labels": false, "title": null}},
            "y2": {"field": "hi"},
            "detail": {"field": "s"}
          }
        },
        {
          "data": {"values": [{}]},
          "mark": {"type": "rule", "color": "#d9d9d9", "strokeWidth": 2, "strokeDash": [13, 10]},
          "encoding": {"y": {"datum": 0, "type": "quantitative", "axis": null}}
        },
        {
          "data": {"name": "fit"},
          "transform": [{"filter": "datum.p == 'B'"}],
          "mark": {"type": "line", "color": "#e50000", "strokeWidth": 3},
          "encoding": {
            "x": {"field": "x", "type": "quantitative", "axis": null},
            "y": {"field": "y", "type": "quantitative", "axis": null},
            "detail": {"field": "s"}
          }
        },
        {
          "data": {"name": "pts"},
          "transform": [{"filter": "datum.p == 'B'"}],
          "mark": {"type": "circle", "color": "black", "opacity": 1, "size": 16},
          "encoding": {
            "x": {"field": "x", "type": "quantitative", "scale": {"domain": [-0.4, 0.3], "nice": false, "zero": false}, "axis": {"orient": "bottom", "values": [-0.4, -0.3, -0.2, -0.1, 0, 0.1, 0.2, 0.3], "labelExpr": "datum.value == -0.4 ? '-0.4' : datum.value == 0 ? '0' : datum.value == 0.3 ? '0.3' : ''", "title": null}},
            "y": {"field": "y", "type": "quantitative", "scale": {"domain": [-4, 6], "nice": false, "zero": false}, "axis": {"orient": "left", "values": [-4, -2, 0, 2, 4, 6], "labelExpr": "datum.value == 6 ? '6' : datum.value == 0 ? '0' : datum.value == -4 ? '-4' : ''", "labelOffset": {"condition": {"test": "datum.value == -4", "value": -6}, "value": 0}, "title": null}}
          }
        },
        {
          "data": {"name": "ann"},
          "transform": [{"filter": "datum.p == 'B' && datum.k == 's'"}],
          "mark": {"type": "text", "font": "Liberation Serif", "fontSize": 22, "align": "left", "baseline": "middle", "color": "black"},
          "encoding": {"x": {"field": "x", "type": "quantitative", "axis": null}, "y": {"field": "y", "type": "quantitative", "axis": null}, "text": {"field": "t"}}
        },
        {
          "data": {"name": "ann"},
          "transform": [{"filter": "datum.p == 'B' && datum.k == 'l'"}],
          "mark": {"type": "text", "font": "Liberation Sans", "fontWeight": "bold", "fontSize": 28, "align": "center", "baseline": "middle", "color": "black"},
          "encoding": {"x": {"field": "x", "type": "quantitative", "axis": null}, "y": {"field": "y", "type": "quantitative", "axis": null}, "text": {"field": "t"}}
        },
        {
          "data": {"name": "ann"},
          "transform": [{"filter": "datum.p == 'B' && datum.k == 'e'"}],
          "mark": {"type": "text", "font": "Liberation Serif", "fontSize": 20, "align": "left", "baseline": "alphabetic", "color": "black"},
          "encoding": {"x": {"field": "x", "type": "quantitative", "axis": null}, "y": {"field": "y", "type": "quantitative", "axis": null}, "text": {"field": "t"}}
        }
      ]
    },
    {
      "width": 428,
      "height": 378,
      "title": {"text": "(C) S5 Summer", "dx": 17, "offset": -24},
      "resolve": {"axis": {"x": "independent", "y": "independent"}},
      "layer": [
        {
          "data": {"name": "fit"},
          "transform": [{"filter": "datum.p == 'C'"}],
          "mark": {"type": "area", "color": "#cdcdc3"},
          "encoding": {
            "x": {"field": "x", "type": "quantitative", "scale": {"domain": [-0.3, 0.2], "nice": false, "zero": false}, "axis": {"orient": "top", "values": [-0.3, -0.2, -0.1, 0, 0.1, 0.2], "labels": false, "title": null}},
            "y": {"field": "lo", "type": "quantitative", "scale": {"domain": [-6, 4], "nice": false, "zero": false}, "axis": {"orient": "right", "values": [-6, -4, -2, 0, 2, 4], "labels": false, "title": null}},
            "y2": {"field": "hi"},
            "detail": {"field": "s"}
          }
        },
        {
          "data": {"values": [{}]},
          "mark": {"type": "rule", "color": "#d9d9d9", "strokeWidth": 2, "strokeDash": [13, 10]},
          "encoding": {"y": {"datum": 0, "type": "quantitative", "axis": null}}
        },
        {
          "data": {"name": "fit"},
          "transform": [{"filter": "datum.p == 'C'"}],
          "mark": {"type": "line", "color": "#e50000", "strokeWidth": 3},
          "encoding": {
            "x": {"field": "x", "type": "quantitative", "axis": null},
            "y": {"field": "y", "type": "quantitative", "axis": null},
            "detail": {"field": "s"}
          }
        },
        {
          "data": {"name": "pts"},
          "transform": [{"filter": "datum.p == 'C'"}],
          "mark": {"type": "circle", "color": "black", "opacity": 1, "size": 16},
          "encoding": {
            "x": {"field": "x", "type": "quantitative", "scale": {"domain": [-0.3, 0.2], "nice": false, "zero": false}, "axis": {"orient": "bottom", "values": [-0.3, -0.2, -0.1, 0, 0.1, 0.2], "labelExpr": "datum.value == -0.3 ? '-0.3' : datum.value == 0 ? '0' : datum.value == 0.2 ? '0.2' : ''", "title": null}},
            "y": {"field": "y", "type": "quantitative", "scale": {"domain": [-6, 4], "nice": false, "zero": false}, "axis": {"orient": "left", "values": [-6, -4, -2, 0, 0.7, 2, 4], "labelExpr": "datum.value == 4 ? '4' : datum.value == 0.7 ? '0' : datum.value == -6 ? '-8' : ''", "labelOffset": {"condition": {"test": "datum.value == -6", "value": -8}, "value": 0}, "tickOpacity": {"condition": {"test": "datum.value == 0.7", "value": 0}, "value": 1}, "title": null}}
          }
        },
        {
          "data": {"name": "ann"},
          "transform": [{"filter": "datum.p == 'C' && datum.k == 's'"}],
          "mark": {"type": "text", "font": "Liberation Serif", "fontSize": 22, "align": "left", "baseline": "middle", "color": "black"},
          "encoding": {"x": {"field": "x", "type": "quantitative", "axis": null}, "y": {"field": "y", "type": "quantitative", "axis": null}, "text": {"field": "t"}}
        },
        {
          "data": {"name": "ann"},
          "transform": [{"filter": "datum.p == 'C' && datum.k == 'l'"}],
          "mark": {"type": "text", "font": "Liberation Sans", "fontWeight": "bold", "fontSize": 28, "align": "center", "baseline": "middle", "color": "black"},
          "encoding": {"x": {"field": "x", "type": "quantitative", "axis": null}, "y": {"field": "y", "type": "quantitative", "axis": null}, "text": {"field": "t"}}
        },
        {
          "data": {"name": "ann"},
          "transform": [{"filter": "datum.p == 'C' && datum.k == 'e'"}],
          "mark": {"type": "text", "font": "Liberation Serif", "fontSize": 20, "align": "left", "baseline": "alphabetic", "color": "black"},
          "encoding": {"x": {"field": "x", "type": "quantitative", "axis": null}, "y": {"field": "y", "type": "quantitative", "axis": null}, "text": {"field": "t"}}
        }
      ]
    },
    {
      "width": 430,
      "height": 354,
      "title": {"text": "(D) S2 Winter", "dx": -28, "offset": -34},
      "resolve": {"axis": {"x": "independent", "y": "independent"}},
      "layer": [
        {
          "data": {"name": "fit"},
          "transform": [{"filter": "datum.p == 'D'"}],
          "mark": {"type": "area", "color": "#cdcdc3"},
          "encoding": {
            "x": {"field": "x", "type": "quantitative", "scale": {"domain": [-0.6, 0.6], "nice": false, "zero": false}, "axis": {"orient": "top", "values": [-0.6, -0.4, -0.2, 0, 0.2, 0.4, 0.6], "labels": false, "title": null}},
            "y": {"field": "lo", "type": "quantitative", "scale": {"domain": [-2, 1], "nice": false, "zero": false}, "axis": {"orient": "right", "values": [-2, -1.5, -1, -0.5, 0, 0.5, 1], "labels": false, "title": null}},
            "y2": {"field": "hi"},
            "detail": {"field": "s"}
          }
        },
        {
          "data": {"values": [{}]},
          "mark": {"type": "rule", "color": "#d9d9d9", "strokeWidth": 2, "strokeDash": [13, 10]},
          "encoding": {"y": {"datum": 0, "type": "quantitative", "axis": null}}
        },
        {
          "data": {"name": "fit"},
          "transform": [{"filter": "datum.p == 'D'"}],
          "mark": {"type": "line", "color": "#e50000", "strokeWidth": 3},
          "encoding": {
            "x": {"field": "x", "type": "quantitative", "axis": null},
            "y": {"field": "y", "type": "quantitative", "axis": null},
            "detail": {"field": "s"}
          }
        },
        {
          "data": {"name": "pts"},
          "transform": [{"filter": "datum.p == 'D'"}],
          "mark": {"type": "circle", "color": "black", "opacity": 1, "size": 16},
          "encoding": {
            "x": {"field": "x", "type": "quantitative", "scale": {"domain": [-0.6, 0.6], "nice": false, "zero": false}, "axis": {"orient": "bottom", "values": [-0.6, -0.4, -0.2, 0, 0.2, 0.4, 0.6], "labelExpr": "datum.value == -0.6 ? '-0.6' : datum.value == 0 ? '0' : datum.value == 0.6 ? '0.6' : ''", "title": "ū₁₀₀|ū₁₀₀| (m²/s²)", "titleX": 223, "titleY": 52, "titleAlign": "center", "titleBaseline": "middle"}},
            "y": {"field": "y", "type": "quantitative", "scale": {"domain": [-2, 1], "nice": false, "zero": false}, "axis": {"orient": "left", "values": [-2, -1.5, -1, -0.5, 0, 0.5, 1], "labelExpr": "datum.value == 1 ? '1' : datum.value == 0 ? '0' : datum.value == -1 ? '-1' : datum.value == -2 ? '-2' : ''", "labelOffset": {"condition": {"test": "datum.value == -2", "value": -6}, "value": 0}, "title": "-u′ w′  (m²/s²)", "titleFontSize": 24, "titleX": -49, "titleY": 157, "titleAngle": -90, "titleAlign": "center", "titleBaseline": "middle"}}
          }
        },
        {
          "data": {"name": "ann"},
          "transform": [{"filter": "datum.p == 'D' && datum.k == 's'"}],
          "mark": {"type": "text", "font": "Liberation Serif", "fontSize": 22, "align": "left", "baseline": "middle", "color": "black"},
          "encoding": {"x": {"field": "x", "type": "quantitative", "axis": null}, "y": {"field": "y", "type": "quantitative", "axis": null}, "text": {"field": "t"}}
        },
        {
          "data": {"name": "ann"},
          "transform": [{"filter": "datum.p == 'D' && datum.k == 'l'"}],
          "mark": {"type": "text", "font": "Liberation Sans", "fontWeight": "bold", "fontSize": 28, "align": "center", "baseline": "middle", "color": "black"},
          "encoding": {"x": {"field": "x", "type": "quantitative", "axis": null}, "y": {"field": "y", "type": "quantitative", "axis": null}, "text": {"field": "t"}}
        },
        {
          "data": {"name": "ann"},
          "transform": [{"filter": "datum.p == 'D' && datum.k == 'e'"}],
          "mark": {"type": "text", "font": "Liberation Serif", "fontSize": 20, "align": "left", "baseline": "alphabetic", "color": "black"},
          "encoding": {"x": {"field": "x", "type": "quantitative", "axis": null}, "y": {"field": "y", "type": "quantitative", "axis": null}, "text": {"field": "t"}}
        }
      ]
    },
    {
      "width": 429,
      "height": 354,
      "title": {"text": "(E) S3 Winter", "dx": 15, "offset": -34},
      "resolve": {"axis": {"x": "independent", "y": "independent"}},
      "layer": [
        {
          "data": {"name": "fit"},
          "transform": [{"filter": "datum.p == 'E'"}],
          "mark": {"type": "area", "color": "#cdcdc3"},
          "encoding": {
            "x": {"field": "x", "type": "quantitative", "scale": {"domain": [-0.3, 0.3], "nice": false, "zero": false}, "axis": {"orient": "top", "values": [-0.3, -0.2, -0.1, 0, 0.1, 0.2, 0.3], "labels": false, "title": null}},
            "y": {"field": "lo", "type": "quantitative", "scale": {"domain": [-8, 6], "nice": false, "zero": false}, "axis": {"orient": "right", "values": [-8, -6, -4, -2, 0, 2, 4, 6], "labels": false, "title": null}},
            "y2": {"field": "hi"},
            "detail": {"field": "s"}
          }
        },
        {
          "data": {"values": [{}]},
          "mark": {"type": "rule", "color": "#d9d9d9", "strokeWidth": 2, "strokeDash": [13, 10]},
          "encoding": {"y": {"datum": 0, "type": "quantitative", "axis": null}}
        },
        {
          "data": {"name": "fit"},
          "transform": [{"filter": "datum.p == 'E'"}],
          "mark": {"type": "line", "color": "#e50000", "strokeWidth": 3},
          "encoding": {
            "x": {"field": "x", "type": "quantitative", "axis": null},
            "y": {"field": "y", "type": "quantitative", "axis": null},
            "detail": {"field": "s"}
          }
        },
        {
          "data": {"name": "pts"},
          "transform": [{"filter": "datum.p == 'E'"}],
          "mark": {"type": "circle", "color": "black", "opacity": 1, "size": 16},
          "encoding": {
            "x": {"field": "x", "type": "quantitative", "scale": {"domain": [-0.3, 0.3], "nice": false, "zero": false}, "axis": {"orient": "bottom", "values": [-0.3, -0.2, -0.1, 0, 0.1, 0.2, 0.3], "labelExpr": "datum.value == -0.3 ? '-0.3' : datum.value == 0 ? '0' : datum.value == 0.3 ? '0.3' : ''", "title": "ū₁₀₀|ū₁₀₀| (m²/s²)", "titleX": 227, "titleY": 52, "titleAlign": "center", "titleBaseline": "middle"}},
            "y": {"field": "y", "type": "quantitative", "scale": {"domain": [-8, 6], "nice": false, "zero": false}, "axis": {"orient": "left", "values": [-8, -6, -4, -2, 0, 2, 4, 6], "labelExpr": "datum.value == 6 ? '6' : datum.value == 0 ? '0' : datum.value == -8 ? '-8' : ''", "labelOffset": {"condition": {"test": "datum.value == -8", "value": -8}, "value": 0}, "title": null}}
          }
        },
        {
          "data": {"name": "ann"},
          "transform": [{"filter": "datum.p == 'E' && datum.k == 's'"}],
          "mark": {"type": "text", "font": "Liberation Serif", "fontSize": 22, "align": "left", "baseline": "middle", "color": "black"},
          "encoding": {"x": {"field": "x", "type": "quantitative", "axis": null}, "y": {"field": "y", "type": "quantitative", "axis": null}, "text": {"field": "t"}}
        },
        {
          "data": {"name": "ann"},
          "transform": [{"filter": "datum.p == 'E' && datum.k == 'l'"}],
          "mark": {"type": "text", "font": "Liberation Sans", "fontWeight": "bold", "fontSize": 28, "align": "center", "baseline": "middle", "color": "black"},
          "encoding": {"x": {"field": "x", "type": "quantitative", "axis": null}, "y": {"field": "y", "type": "quantitative", "axis": null}, "text": {"field": "t"}}
        },
        {
          "data": {"name": "ann"},
          "transform": [{"filter": "datum.p == 'E' && datum.k == 'e'"}],
          "mark": {"type": "text", "font": "Liberation Serif", "fontSize": 20, "align": "left", "baseline": "alphabetic", "color": "black"},
          "encoding": {"x": {"field": "x", "type": "quantitative", "axis": null}, "y": {"field": "y", "type": "quantitative", "axis": null}, "text": {"field": "t"}}
        }
      ]
    },
    {
      "width": 429,
      "height": 354,
      "title": {"text": "(F) S5 Winter", "dx": 0, "offset": -34},
      "resolve": {"axis": {"x": "independent", "y": "independent"}},
      "layer": [
        {
          "data": {"name": "fit"},
          "transform": [{"filter": "datum.p == 'F'"}],
          "mark": {"type": "area", "color": "#cdcdc3"},
          "encoding": {
            "x": {"field": "x", "type": "quantitative", "scale": {"domain": [-0.3, 0.3], "nice": false, "zero": false}, "axis": {"orient": "top", "values": [-0.3, -0.2, -0.1, 0, 0.1, 0.2, 0.3], "labels": false, "title": null}},
            "y": {"field": "lo", "type": "quantitative", "scale": {"domain": [-8, 6], "nice": false, "zero": false}, "axis": {"orient": "right", "values": [-8, -6, -4, -2, 0, 2, 4, 6], "labels": false, "title": null}},
            "y2": {"field": "hi"},
            "detail": {"field": "s"}
          }
        },
        {
          "data": {"values": [{}]},
          "mark": {"type": "rule", "color": "#d9d9d9", "strokeWidth": 2, "strokeDash": [13, 10]},
          "encoding": {"y": {"datum": 0, "type": "quantitative", "axis": null}}
        },
        {
          "data": {"name": "fit"},
          "transform": [{"filter": "datum.p == 'F'"}],
          "mark": {"type": "line", "color": "#e50000", "strokeWidth": 3},
          "encoding": {
            "x": {"field": "x", "type": "quantitative", "axis": null},
            "y": {"field": "y", "type": "quantitative", "axis": null},
            "detail": {"field": "s"}
          }
        },
        {
          "data": {"name": "pts"},
          "transform": [{"filter": "datum.p == 'F'"}],
          "mark": {"type": "circle", "color": "black", "opacity": 1, "size": 16},
          "encoding": {
            "x": {"field": "x", "type": "quantitative", "scale": {"domain": [-0.3, 0.3], "nice": false, "zero": false}, "axis": {"orient": "bottom", "values": [-0.3, -0.2, -0.1, 0, 0.1, 0.2, 0.3], "labelExpr": "datum.value == -0.3 ? '-0.3' : datum.value == 0 ? '0' : datum.value == 0.3 ? '0.3' : ''", "title": "ū₁₀₀|ū₁₀₀| (m²/s²)", "titleX": 225, "titleY": 52, "titleAlign": "center", "titleBaseline": "middle"}},
            "y": {"field": "y", "type": "quantitative", "scale": {"domain": [-8, 6], "nice": false, "zero": false}, "axis": {"orient": "left", "values": [-8, -6, -4, -2, 0, 2, 4, 6], "labelExpr": "datum.value == 6 ? '6' : datum.value == 0 ? '0' : datum.value == -8 ? '-8' : ''", "labelOffset": {"condition": {"test": "datum.value == -8", "value": -8}, "value": 0}, "title": null}}
          }
        },
        {
          "data": {"name": "ann"},
          "transform": [{"filter": "datum.p == 'F' && datum.k == 's'"}],
          "mark": {"type": "text", "font": "Liberation Serif", "fontSize": 22, "align": "left", "baseline": "middle", "color": "black"},
          "encoding": {"x": {"field": "x", "type": "quantitative", "axis": null}, "y": {"field": "y", "type": "quantitative", "axis": null}, "text": {"field": "t"}}
        },
        {
          "data": {"name": "ann"},
          "transform": [{"filter": "datum.p == 'F' && datum.k == 'l'"}],
          "mark": {"type": "text", "font": "Liberation Sans", "fontWeight": "bold", "fontSize": 28, "align": "center", "baseline": "middle", "color": "black"},
          "encoding": {"x": {"field": "x", "type": "quantitative", "axis": null}, "y": {"field": "y", "type": "quantitative", "axis": null}, "text": {"field": "t"}}
        },
        {
          "data": {"name": "ann"},
          "transform": [{"filter": "datum.p == 'F' && datum.k == 'e'"}],
          "mark": {"type": "text", "font": "Liberation Serif", "fontSize": 20, "align": "left", "baseline": "alphabetic", "color": "black"},
          "encoding": {"x": {"field": "x", "type": "quantitative", "axis": null}, "y": {"field": "y", "type": "quantitative", "axis": null}, "text": {"field": "t"}}
        }
      ]
    }
  ],
  "config": {
    "view": {"stroke": "black", "strokeWidth": 2},
    "axis": {
      "domain": false,
      "grid": false,
      "ticks": true,
      "tickSize": -4,
      "tickWidth": 1.3,
      "tickColor": "black",
      "labelFont": "Liberation Serif",
      "labelFontSize": 22,
      "labelColor": "black",
      "labelPadding": 8,
      "labelFlush": false,
      "labelOverlap": false,
      "labelBound": false,
      "titleFont": "Liberation Serif",
      "titleFontSize": 22,
      "titleFontWeight": "normal",
      "titleColor": "black"
    },
    "axisX": {"labelPadding": 12},
    "title": {"font": "Liberation Serif", "fontSize": 26, "fontWeight": "normal", "color": "black", "frame": "group"}
  }
}
